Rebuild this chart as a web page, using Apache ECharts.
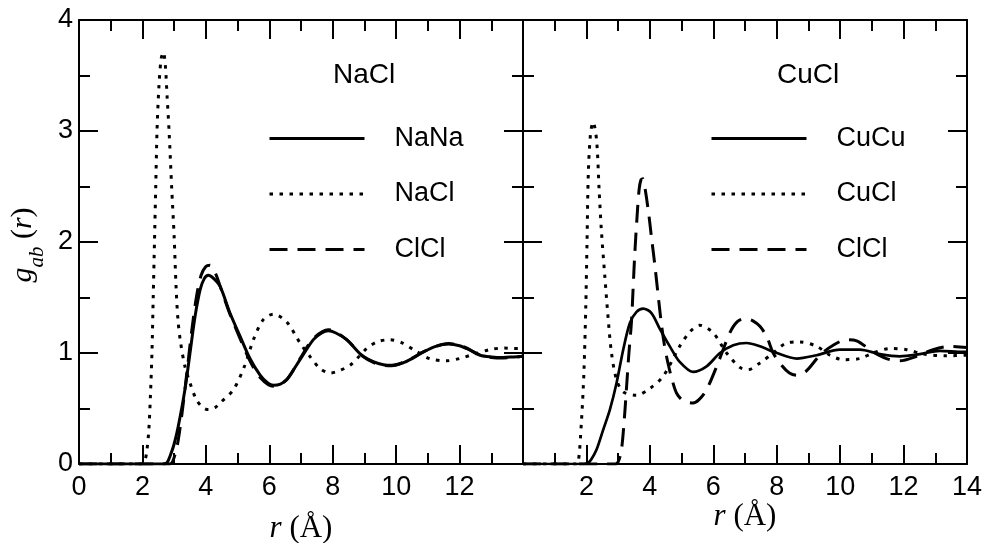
<!DOCTYPE html>
<html>
<head>
<meta charset="utf-8">
<script src="https://cdn.jsdelivr.net/npm/echarts@6/dist/echarts.min.js"></script>
<style>html,body{margin:0;padding:0;background:#fff;}#c{width:988px;height:543px;}</style>
</head>
<body>
<div id="c"></div>
<script>
// ---- Data ----
const xTicksLeft = [0, 2, 4, 6, 8, 10, 12];
const xTicksRight = [2, 4, 6, 8, 10, 12, 14];
const yTicks = [0, 1, 2, 3, 4];

// NaCl panel
const rNaNa = [0,2.6,2.77,2.87,3.0,3.13,3.34,3.5,3.66,3.82,3.95,4.08,4.25,4.45,4.76,5.08,5.39,5.71,5.95,6.13,6.35,6.55,6.97,7.39,7.65,7.86,8.1,8.44,8.91,9.3,9.6,9.86,10.2,10.5,10.86,11.25,11.65,12.0,12.3,12.65,13.0,13.38,13.7,14];
const gNaNa = [0,0,0.01,0.07,0.18,0.34,0.67,1.0,1.33,1.57,1.67,1.70,1.67,1.60,1.36,1.15,0.95,0.80,0.73,0.71,0.72,0.76,0.94,1.12,1.18,1.20,1.18,1.12,0.98,0.92,0.895,0.89,0.91,0.95,1.01,1.06,1.08,1.065,1.03,0.98,0.965,0.96,0.965,0.97];

const rNaCl = [0,1.95,2.06,2.13,2.2,2.25,2.3,2.34,2.38,2.42,2.46,2.52,2.59,2.66,2.72,2.78,2.84,2.92,3.0,3.06,3.12,3.2,3.34,3.5,3.7,3.9,4.08,4.3,4.45,4.87,5.23,5.5,5.81,6.13,6.55,6.97,7.28,7.6,7.92,8.2,8.55,8.8,9.07,9.4,9.8,10.2,10.55,11.05,11.6,12.0,12.35,12.95,13.4,13.7,14];
const gNaCl = [0,0,0.02,0.1,0.3,0.6,1.0,1.5,2.0,2.5,3.0,3.4,3.65,3.71,3.6,3.3,3.0,2.5,2.05,1.6,1.3,1.1,0.88,0.73,0.58,0.51,0.49,0.51,0.55,0.67,0.89,1.12,1.30,1.35,1.28,1.09,0.97,0.86,0.82,0.84,0.89,0.96,1.04,1.10,1.12,1.09,1.03,0.95,0.93,0.95,0.98,1.03,1.045,1.04,1.04];

const rClClNa = [0,2.85,2.95,3.1,3.25,3.4,3.55,3.7,3.85,4.0,4.13,4.3,4.5,4.76,5.08,5.39,5.71,6.13,6.55,6.97,7.39,7.86,8.44,8.91,9.4,9.86,10.4,10.86,11.25,11.65,12.1,12.65,13.0,13.38,13.7,14];
const gClClNa = [0,0,0.02,0.17,0.46,0.82,1.19,1.5,1.7,1.78,1.79,1.72,1.56,1.35,1.13,0.93,0.78,0.70,0.76,0.95,1.13,1.21,1.12,0.98,0.90,0.885,0.94,1.01,1.06,1.085,1.06,0.98,0.96,0.955,0.96,0.97];

// CuCl panel
const rCuCu = [0,1.9,2.05,2.15,2.32,2.53,2.74,2.95,3.16,3.37,3.58,3.79,4.05,4.31,4.63,4.94,5.36,5.79,6.21,6.63,7.05,7.47,8.0,8.63,9.26,9.99,10.62,11.25,11.88,12.51,13.14,13.88,14];
const gCuCu = [0,0,0.01,0.04,0.13,0.31,0.49,0.73,1.03,1.27,1.37,1.40,1.36,1.22,1.06,0.92,0.83,0.88,1.0,1.07,1.09,1.06,1.0,0.95,0.98,1.03,1.03,0.99,0.97,0.99,1.02,1.01,1.01];

const rCuCl = [0,1.65,1.74,1.84,1.92,1.98,2.02,2.06,2.13,2.21,2.32,2.40,2.47,2.58,2.68,2.79,2.95,3.16,3.58,4.0,4.42,4.94,5.26,5.57,6.0,6.42,6.84,7.1,7.47,7.89,8.31,8.73,9.26,9.68,10.1,10.62,11.04,11.57,12.1,12.62,13.36,14];
const gCuCl = [0,0,0.01,0.37,0.82,1.42,2.02,2.62,2.98,3.08,2.92,2.47,2.11,1.69,1.33,1.0,0.76,0.65,0.62,0.68,0.79,1.06,1.19,1.25,1.18,1.0,0.87,0.85,0.91,1.0,1.09,1.10,1.06,0.98,0.94,0.95,1.0,1.04,1.03,0.99,0.975,0.98];

const rClClCu = [0,2.9,3.0,3.1,3.18,3.26,3.34,3.42,3.47,3.52,3.59,3.66,3.72,3.78,3.85,3.97,4.06,4.15,4.25,4.36,4.46,4.57,4.7,4.84,5.05,5.36,5.55,5.79,6.15,6.52,6.75,7.0,7.25,7.47,7.68,7.89,8.15,8.4,8.63,8.94,9.36,9.78,10.2,10.52,11.04,11.46,11.88,12.41,12.93,13.46,14];
const gClClCu = [0,0,0.02,0.12,0.35,0.67,1.0,1.28,1.57,1.87,2.2,2.47,2.56,2.57,2.48,2.24,2.02,1.81,1.55,1.27,1.07,0.91,0.76,0.64,0.57,0.55,0.58,0.67,0.91,1.18,1.28,1.31,1.29,1.24,1.15,1.0,0.89,0.82,0.80,0.84,0.98,1.07,1.12,1.11,1.01,0.95,0.93,0.97,1.03,1.06,1.05];

// ---- Build chart ----
const zip = (xs, ys) => xs.map((x, i) => [x, ys[i]]);
const BLACK = '#000';
const SANS = 'Liberation Sans';
const SERIF = 'Liberation Serif';

function xAxisCfg(grid, pos, labels, ticks) {
  const cfg = {
    type: 'value', gridIndex: grid, position: pos, min: 0, max: 14, interval: 2,
    axisLine: { show: true, onZero: false, lineStyle: { color: BLACK, width: 2 } },
    axisTick: { show: true, inside: true, length: 19, lineStyle: { color: BLACK, width: 2 } },
    minorTick: { show: true, splitNumber: 2, length: 11, lineStyle: { color: BLACK, width: 2 } },
    splitLine: { show: false }, minorSplitLine: { show: false },
    axisLabel: { show: false }
  };
  if (labels) {
    cfg.axisLabel = {
      show: true, margin: 10, fontSize: 27, fontFamily: SANS, color: BLACK,
      customValues: ticks,
      formatter: v => String(v)
    };
  }
  return cfg;
}
function yAxisCfg(grid, pos, labels) {
  const cfg = {
    type: 'value', gridIndex: grid, position: pos, min: 0, max: 4, interval: 1,
    axisLine: { show: true, onZero: false, lineStyle: { color: BLACK, width: 2 } },
    axisTick: { show: true, inside: true, length: 19, lineStyle: { color: BLACK, width: 2 } },
    minorTick: { show: true, splitNumber: 2, length: 11, lineStyle: { color: BLACK, width: 2 } },
    splitLine: { show: false }, minorSplitLine: { show: false },
    axisLabel: { show: false }
  };
  if (labels) {
    cfg.axisLabel = { show: true, margin: 6, fontSize: 27, fontFamily: SANS, color: BLACK,
      customValues: yTicks, formatter: v => String(v) };
  }
  return cfg;
}

const xAxes = [
  xAxisCfg(0, 'bottom', true, xTicksLeft),
  xAxisCfg(0, 'top', false),
  xAxisCfg(1, 'bottom', true, xTicksRight),
  xAxisCfg(1, 'top', false)
];
const rName = '{i|r} {n|(Å)}';
const rRich = {
  i: { fontFamily: SERIF, fontStyle: 'italic', fontSize: 31, color: BLACK },
  n: { fontFamily: SERIF, fontSize: 31, color: BLACK }
};
[0, 2].forEach((k, j) => {
  Object.assign(xAxes[k], {
    name: rName, nameLocation: 'middle', nameGap: j === 0 ? 49 : 37, nameMoveOverlap: false,
    nameTextStyle: { fontFamily: SERIF, fontSize: 31, color: BLACK, rich: rRich }
  });
});

const yAxes = [
  yAxisCfg(0, 'left', true),
  yAxisCfg(0, 'right', false),
  yAxisCfg(1, 'left', false),
  yAxisCfg(1, 'right', false)
];

function lineSeries(name, xs, ys, grid, kind, w) {
  const styles = {
    solid: { type: 'solid' },
    dotted: { type: [3.5, 6.5], cap: 'butt' },
    dashed: { type: [18, 10], cap: 'butt' }
  };
  return {
    type: 'line', name: name, xAxisIndex: grid * 2, yAxisIndex: grid * 2,
    data: zip(xs, ys), showSymbol: false, symbol: 'none', smooth: 0.3,
    lineStyle: Object.assign({ color: BLACK, width: w }, styles[kind]),
    itemStyle: { color: BLACK }, silent: true, animation: false
  };
}

const legendBase = {
  orient: 'vertical', itemWidth: 95, itemHeight: 27, itemGap: 28.5, padding: 0,
  selectedMode: false,
  textStyle: { fontSize: 27, fontFamily: SANS, color: BLACK, padding: [0, 0, 0, 25] },
  itemStyle: { opacity: 0, borderWidth: 0 },
  lineStyle: { width: 3 }
};

const option = {
  backgroundColor: '#fff',
  animation: false,
  grid: [
    { left: 79, top: 20, width: 444, height: 444, outerBoundsMode: 'none' },
    { left: 523, top: 20, width: 444, height: 444, outerBoundsMode: 'none' }
  ],
  title: [
    { text: 'NaCl', left: 333, top: 61, padding: 0, textStyle: { fontSize: 28, fontWeight: 'normal', fontFamily: SANS, color: BLACK } },
    { text: 'CuCl', left: 777, top: 61, padding: 0, textStyle: { fontSize: 28, fontWeight: 'normal', fontFamily: SANS, color: BLACK } }
  ],
  legend: [
    Object.assign({}, legendBase, { left: 268, top: 125, data: ['NaNa', 'NaCl', 'ClCl'] }),
    Object.assign({}, legendBase, { left: 710, top: 125, data: ['CuCu', 'CuCl', 'ClCl'] })
  ],
  graphic: [{
    type: 'text', x: 28, y: 245, rotation: Math.PI / 2, silent: true,
    style: {
      text: '{i|g}{s|ab} {n|(}{i|r}{n|)}', align: 'center', verticalAlign: 'middle',
      fontFamily: SERIF, fontSize: 30, fill: BLACK,
      rich: {
        i: { fontFamily: SERIF, fontStyle: 'italic', fontSize: 30, lineHeight: 30, verticalAlign: 'top', fill: BLACK },
        s: { fontFamily: SERIF, fontStyle: 'italic', fontSize: 21, lineHeight: 40, verticalAlign: 'bottom', fill: BLACK },
        n: { fontFamily: SERIF, fontSize: 30, lineHeight: 30, verticalAlign: 'top', fill: BLACK }
      }
    }
  }],
  xAxis: xAxes,
  yAxis: yAxes,
  series: [
    lineSeries('NaNa', rNaNa, gNaNa, 0, 'solid', 3),
    lineSeries('NaCl', rNaCl, gNaCl, 0, 'dotted', 3),
    lineSeries('ClCl', rClClNa, gClClNa, 0, 'dashed', 3),
    lineSeries('CuCu', rCuCu, gCuCu, 1, 'solid', 2.7),
    lineSeries('CuCl', rCuCl, gCuCl, 1, 'dotted', 3),
    lineSeries('ClCl', rClClCu, gClClCu, 1, 'dashed', 3)
  ]
};
const chart = echarts.init(document.getElementById('c'), null, { renderer: 'canvas' });
chart.setOption(option);
</script>
</body>
</html>
